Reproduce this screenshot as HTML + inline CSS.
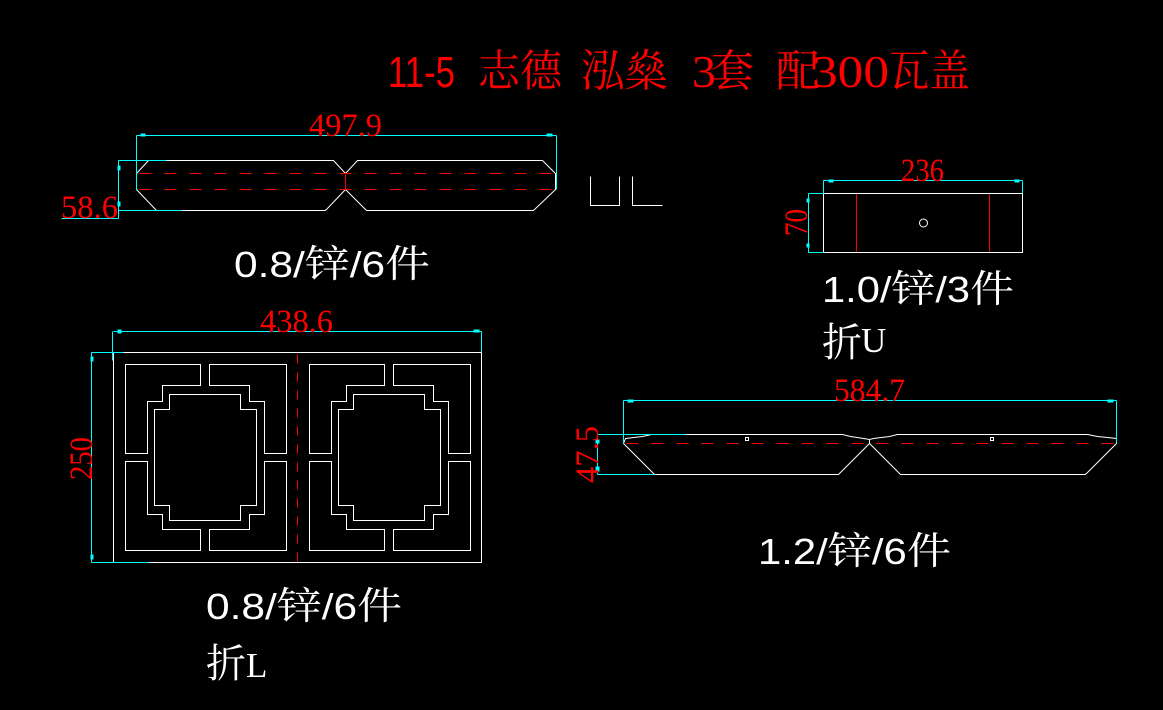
<!DOCTYPE html>
<html><head><meta charset="utf-8">
<style>
html,body{margin:0;padding:0;background:#000;}
svg{display:block;}
.w{fill:none;stroke:#fff;stroke-width:1;}
.c{fill:none;stroke:#00ffff;stroke-width:1;shape-rendering:crispEdges;}
.r{fill:none;stroke:#ff0000;stroke-width:1;shape-rendering:crispEdges;}
.rd{fill:none;stroke:#ff0000;stroke-width:1.4;shape-rendering:crispEdges;}
.dim{font-family:"Liberation Serif","Noto Serif CJK SC",serif;font-size:33px;fill:#ff0000;}
.lab{font-family:"Liberation Sans","Noto Serif CJK SC",sans-serif;font-size:36px;fill:#fff;}
.cjk{font-family:"Liberation Serif","Noto Serif CJK SC",serif;fill:#fff;}
.tt{fill:#ff0000;}
</style></head>
<body>
<svg width="1163" height="710" viewBox="0 0 1163 710" xmlns="http://www.w3.org/2000/svg">
<rect width="1163" height="710" fill="#000"/>

<!-- Title -->
<text class="tt" x="388" y="87" font-family="Liberation Sans, sans-serif" font-size="44" textLength="67" lengthAdjust="spacingAndGlyphs">11-5</text>
<text class="tt" x="478" y="86" font-family="Liberation Serif, Noto Serif CJK SC, serif" font-size="44" textLength="84" lengthAdjust="spacingAndGlyphs">志德</text>
<text class="tt" x="581" y="86" font-family="Liberation Serif, Noto Serif CJK SC, serif" font-size="44" textLength="87" lengthAdjust="spacingAndGlyphs">泓燊</text>
<text class="tt" x="692" y="87" font-family="Liberation Serif, serif" font-size="46" textLength="24" lengthAdjust="spacingAndGlyphs">3</text>
<text class="tt" x="711" y="86" font-family="Liberation Serif, Noto Serif CJK SC, serif" font-size="44" textLength="43" lengthAdjust="spacingAndGlyphs">套</text>
<text class="tt" x="776" y="86" font-family="Liberation Serif, Noto Serif CJK SC, serif" font-size="44" textLength="44" lengthAdjust="spacingAndGlyphs">配</text>
<text class="tt" x="812" y="87" font-family="Liberation Serif, serif" font-size="46" textLength="77" lengthAdjust="spacingAndGlyphs">300</text>
<text class="tt" x="889" y="86" font-family="Liberation Serif, Noto Serif CJK SC, serif" font-size="44" textLength="81" lengthAdjust="spacingAndGlyphs">瓦盖</text>

<g transform="translate(0.5,0.5)">
<!-- ===== Top piece ===== -->
<polygon class="w" points="148,160 333,160 345,173 357,160 542,160 555,173 555,189 533,210 366,210 345,189 325,210 156,210 136,189 136,173"/>
<line class="r" x1="345" y1="173" x2="345" y2="189"/>
<line class="rd" x1="136" y1="173" x2="555" y2="173" stroke-dasharray="12 13" stroke-dashoffset="-3"/>
<line class="rd" x1="136" y1="189" x2="555" y2="189" stroke-dasharray="12 13" stroke-dashoffset="-3"/>
<!-- dims -->
<line class="c" x1="136" y1="135" x2="556" y2="135"/>
<line class="c" x1="136" y1="135" x2="136" y2="190"/>
<line class="c" x1="556" y1="135" x2="556" y2="189"/>
<rect x="140" y="133" width="5" height="3" fill="#00ffff"/>
<rect x="546" y="133" width="6" height="3" fill="#00ffff"/>
<line class="c" x1="118" y1="160" x2="118" y2="218"/>
<line class="c" x1="118" y1="160" x2="166" y2="160"/>
<line class="c" x1="118" y1="210" x2="181" y2="210"/>
<line class="c" x1="61" y1="218" x2="118" y2="218"/>
<rect x="117" y="165" width="3" height="5" fill="#00ffff"/>
<rect x="117" y="201" width="3" height="5" fill="#00ffff"/>
<!-- U and L -->
<polyline class="w" points="590,176 590,205 619,205 619,176"/>
<polyline class="w" points="632,176 632,205 662,205"/>

<!-- ===== U box ===== -->
<rect class="w" x="823" y="193" width="199" height="59"/>
<line class="r" x1="856" y1="194" x2="856" y2="251"/>
<line class="r" x1="989" y1="194" x2="989" y2="251"/>
<circle class="w" cx="923" cy="222.5" r="4"/>
<line class="c" x1="823" y1="180" x2="1022" y2="180"/>
<line class="c" x1="823" y1="180" x2="823" y2="193"/>
<line class="c" x1="1022" y1="180" x2="1022" y2="193"/>
<rect x="828" y="179" width="5" height="3" fill="#00ffff"/>
<rect x="1014" y="179" width="5" height="3" fill="#00ffff"/>
<line class="c" x1="808" y1="193" x2="808" y2="252"/>
<line class="c" x1="808" y1="193" x2="823" y2="193"/>
<line class="c" x1="808" y1="252" x2="823" y2="252"/>
<rect x="806" y="198" width="3" height="4" fill="#00ffff"/>
<rect x="806" y="243" width="3" height="4" fill="#00ffff"/>

<!-- ===== Frame panel ===== -->
<rect class="w" x="113" y="352" width="368" height="210"/>
<line class="rd" x1="297" y1="352" x2="297" y2="562" stroke-dasharray="9 9" stroke-dashoffset="-2"/>
<g>
<polygon class="w" points="125,364 200,364 200,385 162,385 162,401 147,401 147,453 125,453"/>
<polygon class="w" points="209,364 286,364 286,453 264,453 264,401 249,401 249,385 209,385"/>
<polygon class="w" points="125,461 147,461 147,514 162,514 162,529 200,529 200,550 125,550"/>
<polygon class="w" points="286,461 264,461 264,514 249,514 249,529 209,529 209,550 286,550"/>
<polygon class="w" points="169,394 240,394 240,409 256,409 256,505 240,505 240,520 169,520 169,505 154,505 154,409 169,409"/>
</g>
<g transform="translate(184,0)">
<polygon class="w" points="125,364 200,364 200,385 162,385 162,401 147,401 147,453 125,453"/>
<polygon class="w" points="209,364 286,364 286,453 264,453 264,401 249,401 249,385 209,385"/>
<polygon class="w" points="125,461 147,461 147,514 162,514 162,529 200,529 200,550 125,550"/>
<polygon class="w" points="286,461 264,461 264,514 249,514 249,529 209,529 209,550 286,550"/>
<polygon class="w" points="169,394 240,394 240,409 256,409 256,505 240,505 240,520 169,520 169,505 154,505 154,409 169,409"/>
</g>
<line class="c" x1="113" y1="331" x2="481" y2="331"/>
<line class="c" x1="112" y1="331" x2="112" y2="360"/>
<line class="c" x1="481" y1="331" x2="481" y2="352"/>
<rect x="117" y="329" width="4" height="4" fill="#00ffff"/>
<rect x="473" y="329" width="6" height="3" fill="#00ffff"/>
<line class="c" x1="91" y1="352" x2="91" y2="562"/>
<line class="c" x1="91" y1="352" x2="123" y2="352"/>
<line class="c" x1="91" y1="562" x2="148" y2="562"/>
<rect x="90" y="356" width="3" height="5" fill="#00ffff"/>
<rect x="90" y="554" width="3" height="5" fill="#00ffff"/>

<!-- ===== Bottom piece ===== -->
<polygon class="w" points="623,443 625,438 642,436 651,434 842,434 850,436 860,437.5 869,439 873,438 889,436 897,434 1087,434 1097,436 1107,437 1116,438 1116,443 1085,474 900,474 869,443 838,474 654,474"/>
<line class="w" x1="869" y1="439" x2="869" y2="443"/>
<line class="rd" x1="623" y1="443" x2="1116" y2="443" stroke-dasharray="12 13" stroke-dashoffset="-3"/>
<rect class="w" x="745" y="437" width="3" height="3"/>
<rect class="w" x="990" y="437" width="3" height="3"/>
<line class="c" x1="623" y1="400" x2="1116" y2="400"/>
<line class="c" x1="623" y1="400" x2="623" y2="443"/>
<line class="c" x1="1116" y1="400" x2="1116" y2="443"/>
<rect x="627" y="399" width="6" height="3" fill="#00ffff"/>
<rect x="1107" y="399" width="6" height="3" fill="#00ffff"/>
<line class="c" x1="597" y1="434" x2="597" y2="474"/>
<line class="c" x1="597" y1="434" x2="685" y2="434"/>
<line class="c" x1="597" y1="474" x2="654" y2="474"/>
<rect x="595" y="439" width="4" height="4" fill="#00ffff"/>
<rect x="595" y="466" width="4" height="5" fill="#00ffff"/>
</g>

<!-- Dimension texts -->
<text class="dim" x="309" y="136" textLength="73" lengthAdjust="spacingAndGlyphs">497.9</text>
<text class="dim" x="61" y="218" textLength="57" lengthAdjust="spacingAndGlyphs">58.6</text>
<text class="dim" x="901" y="181" textLength="43" lengthAdjust="spacingAndGlyphs">236</text>
<text class="dim" x="260" y="332" textLength="73" lengthAdjust="spacingAndGlyphs">438.6</text>
<text class="dim" x="834" y="401" textLength="71" lengthAdjust="spacingAndGlyphs">584.7</text>
<text class="dim" transform="translate(807,222.5) rotate(-90)" x="0" y="0" text-anchor="middle" textLength="27" lengthAdjust="spacingAndGlyphs">70</text>
<text class="dim" transform="translate(92,458.5) rotate(-90)" x="0" y="0" text-anchor="middle" textLength="43" lengthAdjust="spacingAndGlyphs">250</text>
<text class="dim" transform="translate(598,454.5) rotate(-90)" x="0" y="0" text-anchor="middle" textLength="57" lengthAdjust="spacingAndGlyphs">47.5</text>

<!-- White labels -->
<text class="lab" x="234" y="277" textLength="196" lengthAdjust="spacingAndGlyphs">0.8/<tspan font-size="38">锌</tspan>/6<tspan font-size="38">件</tspan></text>
<text class="lab" x="822" y="302" textLength="192" lengthAdjust="spacingAndGlyphs">1.0/<tspan font-size="38">锌</tspan>/3<tspan font-size="38">件</tspan></text>
<text class="cjk" x="822" y="356" font-size="40">折</text>
<text class="cjk" x="861" y="352" font-size="35" font-family="Liberation Serif, serif">U</text>
<text class="lab" x="206" y="619" textLength="196" lengthAdjust="spacingAndGlyphs">0.8/<tspan font-size="38">锌</tspan>/6<tspan font-size="38">件</tspan></text>
<text class="cjk" x="206" y="677" font-size="40">折</text>
<text class="cjk" x="246" y="677" font-size="35" font-family="Liberation Serif, serif">L</text>
<text class="lab" x="758" y="564" textLength="193" lengthAdjust="spacingAndGlyphs">1.2/<tspan font-size="38">锌</tspan>/6<tspan font-size="38">件</tspan></text>
</svg>
</body></html>
